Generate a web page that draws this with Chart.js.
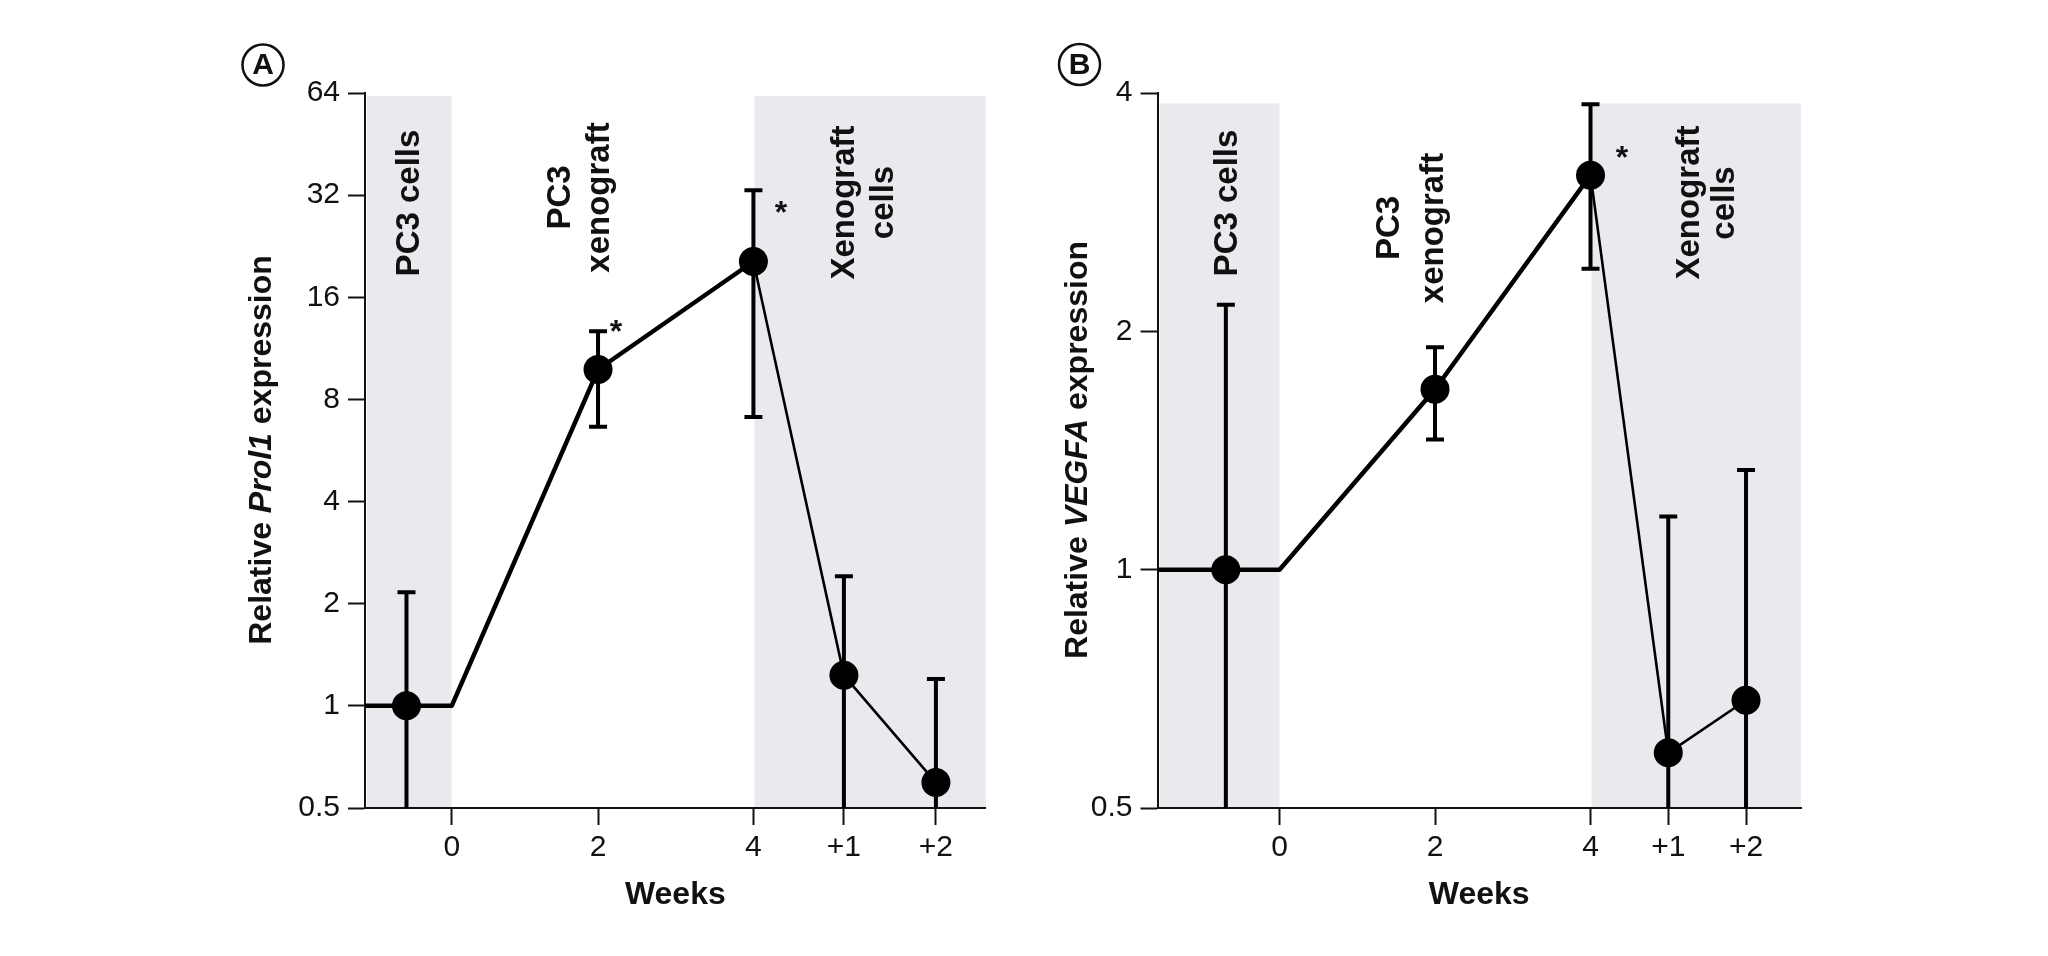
<!DOCTYPE html>
<html>
<head>
<meta charset="utf-8">
<script src="https://cdn.jsdelivr.net/npm/chart.js@4/dist/chart.umd.min.js"></script>
<style>
  html, body { margin: 0; padding: 0; background: #ffffff; }
  #wrap { position: relative; width: 2048px; height: 956px; overflow: hidden; background: #fff; }
  #wrap canvas { position: absolute; top: 0; }
</style>
</head>
<body>
<div id="wrap">
  <canvas id="chartA" width="1024" height="956" style="left:0px;width:1024px;height:956px"></canvas>
  <canvas id="chartB" width="1024" height="956" style="left:1024px;width:1024px;height:956px"></canvas>
</div>
<script>
// ---------------- DATA ----------------
const xTickLabels = ['0', '2', '4', '+1', '+2'];
const pointGroups = ['PC3 cells', 'Week 2', 'Week 4', '+1', '+2'];

// Panel A: Prol1 (log2 axis)
const aTickPos  = [0, 1.94, 4, 5.2, 6.42];
const aPointX   = [-0.6, 1.94, 4, 5.2, 6.42];
const aMean     = [1, 9.8, 20.4, 1.23, 0.594];
const aErrLow   = [null, 6.65, 7.1, null, null];   // null = bar runs past the axis floor
const aErrHigh  = [2.16, 12.7, 33.1, 2.41, 1.2];
const aYTicks   = [0.5, 1, 2, 4, 8, 16, 32, 64];

// Panel B: VEGFA (log2 axis)
const bTickPos  = [0, 2, 4, 5, 6];
const bPointX   = [-0.69, 2, 4, 5, 6];
const bMean     = [1, 1.69, 3.15, 0.587, 0.684];
const bErrLow   = [null, 1.46, 2.4, null, null];
const bErrHigh  = [2.16, 1.91, 3.87, 1.167, 1.336];
const bYTicks   = [0.5, 1, 2, 4];

// ---------------- STYLE / LAYOUT ----------------
const FONT = '"Liberation Sans", Arial, Helvetica, sans-serif';
const INK = '#111111';
const SHADE = '#e9eaee';

function vText(ctx, text, x, y, size) {
  ctx.save();
  ctx.translate(x, y);
  ctx.rotate(-Math.PI / 2);
  ctx.font = 'bold ' + size + 'px ' + FONT;
  ctx.textAlign = 'center';
  ctx.textBaseline = 'middle';
  ctx.fillStyle = INK;
  ctx.fillText(text, 0, 0);
  ctx.restore();
}

function richVText(ctx, parts, x, y, size) {
  ctx.save();
  ctx.translate(x, y);
  ctx.rotate(-Math.PI / 2);
  ctx.textBaseline = 'middle';
  ctx.textAlign = 'left';
  ctx.fillStyle = INK;
  let total = 0;
  const widths = parts.map(p => {
    ctx.font = (p.it ? 'italic ' : '') + 'bold ' + size + 'px ' + FONT;
    const w = ctx.measureText(p.t).width; total += w; return w;
  });
  let cx = -total / 2;
  parts.forEach((p, i) => {
    ctx.font = (p.it ? 'italic ' : '') + 'bold ' + size + 'px ' + FONT;
    ctx.fillText(p.t, cx, 0);
    cx += widths[i];
  });
  ctx.restore();
}

function makePanel(cfg) {
  const off = cfg.offset;
  const area = cfg.area; // page px: left, top, right, bottom
  const xMin = cfg.xMin, xMax = cfg.xMax;

  // line through the means: baseline at 1 from the axis to week 0, then the time course
  const lineX = [xMin, 0].concat(cfg.pointX.slice(1));
  const lineY = [1, 1].concat(cfg.mean.slice(1));
  const thick = [], thin = [];
  lineX.forEach((x, i) => {
    if (x <= 4) thick.push({x: x, y: lineY[i]});
    if (x >= 4) thin.push({x: x, y: lineY[i]});
  });
  const pts = cfg.pointX.map((x, i) => ({x: x, y: cfg.mean[i]}));

  const shadePlugin = {
    id: 'shade',
    beforeDraw(chart) {
      const {ctx, scales: {x, y}, chartArea} = chart;
      const top = y.getPixelForValue(cfg.shadeTop);
      const bottom = chartArea.bottom - 1;
      ctx.save();
      ctx.fillStyle = SHADE;
      const l1 = x.left + 2, r1 = x.getPixelForValue(0);
      ctx.fillRect(l1, top, r1 - l1, bottom - top);
      const l2 = x.getPixelForValue(4) + 1, r2 = x.right;
      ctx.fillRect(l2, top, r2 - l2, bottom - top);
      ctx.restore();
    }
  };

  const errPlugin = {
    id: 'errbars',
    afterDatasetsDraw(chart) {
      const {ctx, scales: {x, y}, chartArea} = chart;
      ctx.save();
      ctx.beginPath();
      ctx.rect(chartArea.left - 20, chartArea.top - 20, chartArea.width + 40, chartArea.bottom - chartArea.top + 20);
      ctx.clip();
      ctx.strokeStyle = '#000';
      ctx.lineCap = 'butt';
      cfg.pointX.forEach((xv, i) => {
        const px = x.getPixelForValue(xv);
        const hi = y.getPixelForValue(cfg.high[i]);
        const lo = cfg.low[i] == null ? chartArea.bottom : y.getPixelForValue(cfg.low[i]);
        ctx.lineWidth = 4;
        ctx.beginPath();
        ctx.moveTo(px, lo);
        ctx.lineTo(px, hi);
        ctx.stroke();
        ctx.lineWidth = 4;
        ctx.beginPath();
        ctx.moveTo(px - 9, hi);
        ctx.lineTo(px + 9, hi);
        ctx.stroke();
        if (cfg.low[i] != null) {
          ctx.beginPath();
          ctx.moveTo(px - 9, lo);
          ctx.lineTo(px + 9, lo);
          ctx.stroke();
        }
      });
      ctx.restore();
    }
  };

  const textPlugin = {
    id: 'texts',
    afterDraw(chart) {
      const ctx = chart.ctx;
      ctx.save();
      // panel letter in a circle
      const lx = cfg.letterPos[0] - off, ly = cfg.letterPos[1];
      ctx.beginPath();
      ctx.arc(lx, ly, 20.5, 0, Math.PI * 2);
      ctx.lineWidth = 2.5;
      ctx.strokeStyle = INK;
      ctx.stroke();
      ctx.fillStyle = INK;
      ctx.font = 'bold 30px ' + FONT;
      ctx.textAlign = 'center';
      ctx.textBaseline = 'middle';
      ctx.fillText(cfg.letter, lx, ly + 1);
      // y-axis title
      richVText(ctx, cfg.yTitle, cfg.yTitlePos[0] - off, cfg.yTitlePos[1], 32);
      // region labels
      cfg.labels.forEach(l => vText(ctx, l.t, l.x - off, l.y, 33));
      // significance stars
      ctx.font = 'bold 32px ' + FONT;
      ctx.textAlign = 'center';
      ctx.textBaseline = 'alphabetic';
      ctx.fillStyle = INK;
      cfg.stars.forEach(s => ctx.fillText('*', s[0] - off, s[1] + 18));
      ctx.restore();
    }
  };

  return new Chart(document.getElementById(cfg.canvas), {
    type: 'scatter',
    data: {
      datasets: [
        { label: 'trend', data: thick, showLine: true, borderColor: '#000', borderWidth: 4.5,
          pointRadius: 0, pointHoverRadius: 0, tension: 0, borderJoinStyle: 'round', borderCapStyle: 'butt', order: 3 },
        { label: 'trend2', data: thin, showLine: true, borderColor: '#000', borderWidth: 2.6,
          pointRadius: 0, pointHoverRadius: 0, tension: 0, borderJoinStyle: 'round', order: 2 },
        { label: 'mean', data: pts, showLine: false, pointRadius: 14.5, pointHoverRadius: 14.5,
          pointBackgroundColor: '#000', pointBorderWidth: 0, order: 1 }
      ]
    },
    options: {
      responsive: false,
      animation: false,
      devicePixelRatio: 1,
      events: [],
      layout: { padding: { left: 0, top: area[1], right: (off + 1024) - area[2], bottom: 0 } },
      plugins: { legend: { display: false }, tooltip: { enabled: false } },
      scales: {
        x: {
          type: 'linear', min: xMin, max: xMax, bounds: 'data',
          afterBuildTicks: s => { s.ticks = cfg.tickPos.map(v => ({value: v})); },
          afterFit: s => { s.height = 956 - area[3]; },
          ticks: {
            callback: (v, i) => xTickLabels[i],
            autoSkip: false, maxRotation: 0, minRotation: 0,
            font: { family: FONT, size: 30 }, color: INK, padding: 5
          },
          grid: { display: true, drawOnChartArea: false, drawTicks: true, tickLength: 17, tickWidth: 2, tickColor: INK },
          border: { display: true, color: INK, width: 2 },
          title: { display: true, text: 'Weeks', color: INK,
                   font: { family: FONT, size: 32, weight: 'bold' }, padding: { top: 0, bottom: 42 } }
        },
        y: {
          type: 'logarithmic', min: 0.5, max: cfg.yMax, bounds: 'data',
          afterBuildTicks: s => { s.ticks = cfg.yTicks.map(v => ({value: v})); },
          afterFit: s => { s.width = area[0] - off; },
          ticks: {
            callback: v => String(v),
            autoSkip: false,
            font: { family: FONT, size: 30 }, color: INK, padding: 8
          },
          grid: { display: true, drawOnChartArea: false, drawTicks: true, tickLength: 17, tickWidth: 2, tickColor: INK },
          border: { display: true, color: INK, width: 2 }
        }
      }
    },
    plugins: [shadePlugin, errPlugin, textPlugin]
  });
}

makePanel({
  canvas: 'chartA', offset: 0,
  area: [365, 93, 985.7, 808],
  xMin: -1.15, xMax: 7.08,
  tickPos: aTickPos, pointX: aPointX, mean: aMean, low: aErrLow, high: aErrHigh,
  yMax: 64, yTicks: aYTicks, shadeTop: 62.7,
  letter: 'A', letterPos: [263, 65],
  yTitle: [{t: 'Relative ', it: false}, {t: 'Prol1', it: true}, {t: ' expression', it: false}],
  yTitlePos: [262, 450],
  labels: [
    {t: 'PC3 cells', x: 410, y: 203},
    {t: 'PC3', x: 561, y: 197.5},
    {t: 'xenograft', x: 600, y: 197.5},
    {t: 'Xenograft', x: 845, y: 202.5},
    {t: 'cells', x: 883.5, y: 202.5}
  ],
  stars: [[616, 324], [781, 205]]
});

makePanel({
  canvas: 'chartB', offset: 1024,
  area: [1157.5, 93, 1801, 808],
  xMin: -1.569, xMax: 6.707,
  tickPos: bTickPos, pointX: bPointX, mean: bMean, low: bErrLow, high: bErrHigh,
  yMax: 4, yTicks: bYTicks, shadeTop: 3.88,
  letter: 'B', letterPos: [1079.5, 64.5],
  yTitle: [{t: 'Relative ', it: false}, {t: 'VEGFA', it: true}, {t: ' expression', it: false}],
  yTitlePos: [1078.5, 450],
  labels: [
    {t: 'PC3 cells', x: 1228, y: 203},
    {t: 'PC3', x: 1390, y: 228},
    {t: 'xenograft', x: 1433.5, y: 228},
    {t: 'Xenograft', x: 1689.5, y: 202.5},
    {t: 'cells', x: 1724.5, y: 203}
  ],
  stars: [[1622, 150]]
});
</script>
</body>
</html>
